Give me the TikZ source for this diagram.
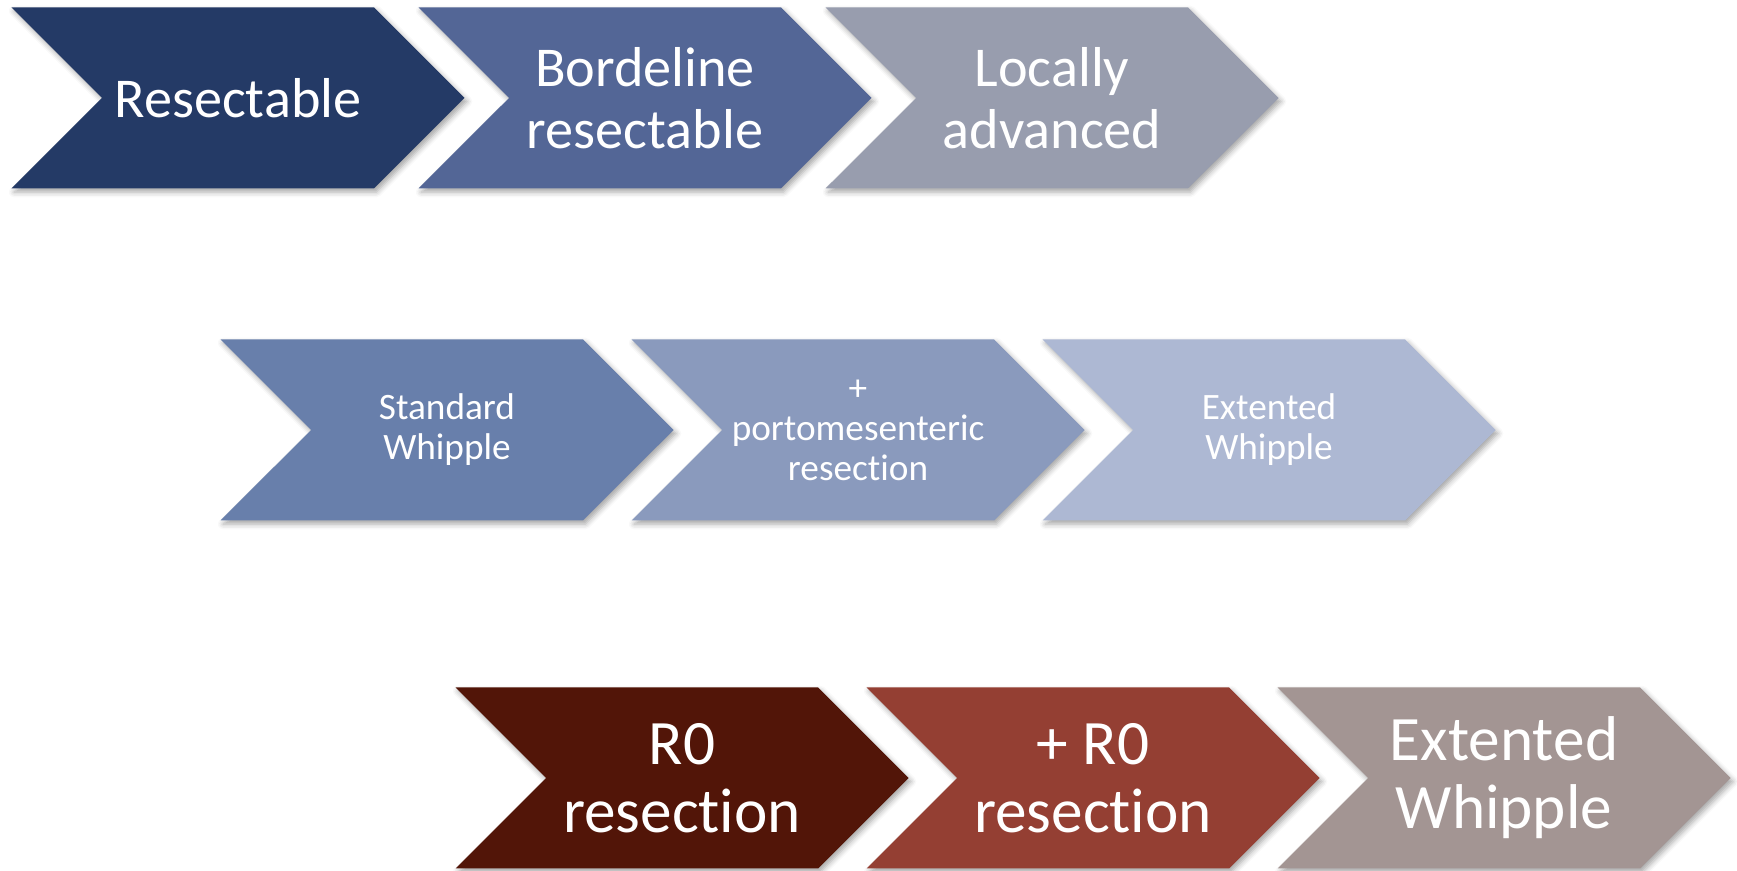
\documentclass[tikz,border=0pt]{standalone}
\usepackage{fontspec}
\setmainfont[Ligatures=NoCommon]{Carlito}
\usetikzlibrary{shapes.symbols,shadows.blur}
\definecolor{resblue}{HTML}{243A66}
\definecolor{bordblue}{HTML}{536696}
\definecolor{locgrey}{HTML}{989DAE}
\definecolor{stdblue}{HTML}{687FAB}
\definecolor{portblue}{HTML}{8A9ABD}
\definecolor{extblue}{HTML}{ADB8D3}
\definecolor{rzero}{HTML}{521508}
\definecolor{rplus}{HTML}{943F33}
\definecolor{extgrey}{HTML}{A39593}

\begin{document}
\begin{tikzpicture}[
    chev/.style={signal,signal to=east,signal from=west,signal pointer angle=90,
      minimum width=9.06cm,minimum height=3.62cm,inner sep=0pt,outer sep=0pt,
      draw=none,text=white,align=center,
      blur shadow={shadow xshift=1.5pt,shadow yshift=-2pt,shadow blur radius=3pt,shadow opacity=35}},
    stagebox/.style={chev,font=\fontsize{32}{35}\selectfont},
    surgbox/.style={chev,font=\fontsize{21.2}{22.8}\selectfont},
    outbox/.style={chev,font=\fontsize{36}{38.7}\selectfont}
  ]
    \useasboundingbox (0,0) rectangle (34.74,-17.42);

    % stages
    \node[stagebox,fill=resblue] (res) at (4.76,-1.96) {Resectable};
    \node[stagebox,fill=bordblue] (bord) at ([xshift=8.14cm]res.center) {Bordeline\\resectable};
    \node[stagebox,fill=locgrey] (loc) at ([xshift=8.14cm]bord.center) {Locally\\advanced};

    % surgery
    \node[surgbox,fill=stdblue] (std) at (8.94,-8.6) {Standard\\Whipple};
    \node[surgbox,fill=portblue] (port) at ([xshift=8.22cm]std.center) {+\\portomesenteric\\resection};
    \node[surgbox,fill=extblue] (ext) at ([xshift=8.22cm]port.center) {Extented\\Whipple};

    % outcome
    \node[outbox,fill=rzero] (rz) at (13.64,-15.56) {R0\\resection};
    \node[outbox,fill=rplus] (rp) at ([xshift=8.22cm]rz.center) {+ R0\\resection};
    \node[outbox,fill=extgrey] (extw) at ([xshift=8.22cm]rp.center) {Extented\\Whipple};
  \end{tikzpicture}
\end{document}
